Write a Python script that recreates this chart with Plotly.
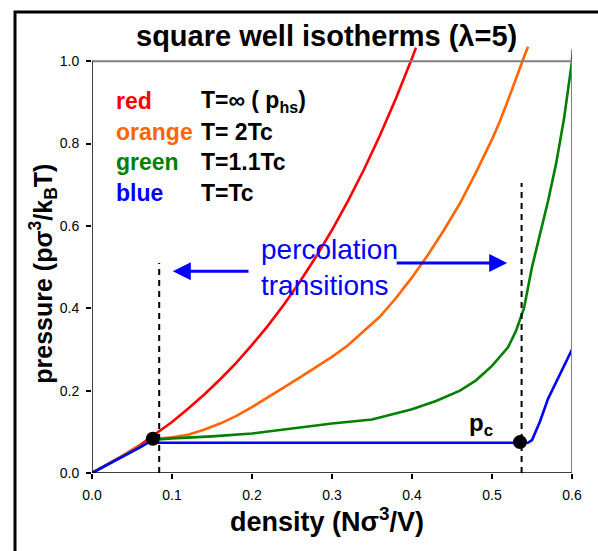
import plotly.graph_objects as go

# Square-well isotherms: pressure vs density
red_x = [0, 0.02, 0.04, 0.06, 0.08, 0.10, 0.12, 0.14, 0.16, 0.18, 0.20, 0.22, 0.24,
         0.26, 0.28, 0.30, 0.32, 0.34, 0.36, 0.38, 0.40, 0.405]
red_y = [0, 0.021, 0.044, 0.068, 0.095, 0.124, 0.156, 0.190, 0.227, 0.267, 0.311, 0.358,
         0.409, 0.465, 0.525, 0.590, 0.661, 0.737, 0.820, 0.910, 1.007, 1.033]

orange_x = [0, 0.02, 0.04, 0.06, 0.08, 0.10, 0.12, 0.14, 0.16, 0.18, 0.20, 0.22, 0.24,
            0.26, 0.28, 0.30, 0.32, 0.34, 0.36, 0.38, 0.40, 0.42, 0.44, 0.46, 0.48,
            0.50, 0.51, 0.52, 0.53, 0.54, 0.545]
orange_y = [0, 0.021, 0.043, 0.065, 0.083, 0.087, 0.093, 0.105, 0.120, 0.138, 0.160,
            0.185, 0.208, 0.232, 0.256, 0.282, 0.310, 0.345, 0.380, 0.425, 0.475,
            0.530, 0.590, 0.655, 0.730, 0.810, 0.855, 0.905, 0.960, 1.010, 1.035]

green_x = [0, 0.02, 0.04, 0.06, 0.075, 0.10, 0.15, 0.20, 0.25, 0.30, 0.35, 0.40, 0.43,
           0.46, 0.48, 0.50, 0.52, 0.53, 0.54, 0.55, 0.56, 0.57, 0.58, 0.59, 0.595,
           0.60, 0.601]
green_y = [0, 0.020, 0.042, 0.063, 0.080, 0.084, 0.089, 0.096, 0.108, 0.120, 0.130,
           0.155, 0.175, 0.200, 0.225, 0.260, 0.305, 0.345, 0.400, 0.500, 0.580,
           0.660, 0.750, 0.860, 0.930, 1.000, 1.030]

blue_x = [0, 0.02, 0.04, 0.06, 0.07, 0.10, 0.20, 0.30, 0.40, 0.50, 0.545, 0.55, 0.56,
          0.57, 0.58, 0.59, 0.60]
blue_y = [0, 0.020, 0.042, 0.062, 0.0735, 0.0735, 0.0735, 0.0735, 0.0735, 0.0735,
          0.0735, 0.080, 0.125, 0.180, 0.220, 0.260, 0.300]

# percolation points
dot_x = [0.076, 0.535]
dot_y = [0.083, 0.075]

# percolation transition markers
perc_left_x, perc_left_top = 0.084, 0.51
perc_right_x, perc_right_top = 0.537, 0.704

x_ticks = [0.0, 0.1, 0.2, 0.3, 0.4, 0.5, 0.6]
y_ticks = [0.0, 0.2, 0.4, 0.6, 0.8, 1.0]

legend_names = ["red", "orange", "green", "blue"]
legend_labels = ["T=\u221e ( p<sub>hs</sub>)", "T= 2Tc", "T=1.1Tc", "T=Tc"]
colors = ["#FF0000", "#FF6600", "#008000", "#0000FF"]

FONT = "Arial, Liberation Sans, sans-serif"

fig = go.Figure()
for xs, ys, c in [(red_x, red_y, colors[0]), (orange_x, orange_y, colors[1]),
                  (green_x, green_y, colors[2]), (blue_x, blue_y, colors[3])]:
    fig.add_trace(go.Scatter(x=xs, y=ys, mode="lines",
                             line=dict(color=c, width=2.6), hoverinfo="skip"))

fig.add_trace(go.Scatter(x=dot_x, y=dot_y, mode="markers",
                         marker=dict(color="black", size=14), cliponaxis=False))

shapes = []
# dashed vertical markers
for xv, top in [(perc_left_x, perc_left_top), (perc_right_x, perc_right_top)]:
    shapes.append(dict(type="line", xref="x", yref="y", x0=xv, x1=xv, y0=0, y1=top,
                       line=dict(color="black", width=2, dash="6px,5px")))
# plot frame
shapes.append(dict(type="line", xref="x", yref="y", x0=0, x1=0.6, y0=1.0, y1=1.0,
                   line=dict(color="#808080", width=2)))
shapes.append(dict(type="line", xref="x", yref="y", x0=0.6, x1=0.6, y0=0, y1=1.0,
                   line=dict(color="#808080", width=2)))
shapes.append(dict(type="line", xref="x", yref="y", x0=0, x1=0, y0=0, y1=1.0,
                   line=dict(color="black", width=1.5)))
shapes.append(dict(type="line", xref="x", yref="y", x0=0, x1=0.6, y0=0, y1=0,
                   line=dict(color="black", width=1.5)))
# outer border
shapes.append(dict(type="rect", xref="paper", yref="paper", x0=-0.1604, x1=1.08,
                   y0=-0.2, y1=1.0177, line=dict(color="black", width=3), layer="above"))

annotations = []
annotations.append(dict(text="<b>square well isotherms (\u03bb=5)</b>", xref="paper",
                        yref="paper", x=0.4875, y=0.965, xanchor="center",
                        yanchor="middle", showarrow=False,
                        font=dict(family=FONT, size=29, color="black")))
annotations.append(dict(text="<b>density (N\u03c3<sup>3</sup>/V)</b>", xref="paper",
                        yref="paper", x=0.49, y=-0.103, xanchor="center",
                        yanchor="middle", showarrow=False,
                        font=dict(family=FONT, size=27, color="black")))
annotations.append(dict(text="<b>pressure (p\u03c3<sup>3</sup>/k<sub>B</sub>T)</b>",
                        xref="paper", yref="paper", x=-0.102, y=0.44, textangle=-90,
                        xanchor="center", yanchor="middle", showarrow=False,
                        font=dict(family=FONT, size=25, color="black")))

row_y = [0.903, 0.828, 0.755, 0.680]
for name, lab, c, ry in zip(legend_names, legend_labels, colors, row_y):
    annotations.append(dict(text="<b>" + name + "</b>", x=0.0275, y=ry, xref="x",
                            yref="y", xanchor="left", yanchor="middle", showarrow=False,
                            font=dict(family=FONT, size=23, color=c)))
    annotations.append(dict(text="<b>" + lab + "</b>", x=0.134, y=ry, xref="x",
                            yref="y", xanchor="left", yanchor="middle", showarrow=False,
                            font=dict(family=FONT, size=23, color="black")))

annotations.append(dict(text="percolation<br>transitions", x=0.209, y=0.50, xref="x",
                        yref="y", xanchor="left", yanchor="middle", align="left",
                        showarrow=False, font=dict(family=FONT, size=28, color="#0000FF")))
annotations.append(dict(text="<b>p<sub>c</sub></b>", x=0.469, y=0.117, xref="x",
                        yref="y", xanchor="left", yanchor="middle", showarrow=False,
                        font=dict(family=FONT, size=24, color="black")))

# arrows
annotations.append(dict(x=0.101, y=0.49, ax=0.1975, ay=0.49, xref="x", yref="y",
                        axref="x", ayref="y", text="", showarrow=True, arrowhead=2,
                        arrowsize=1.2, arrowwidth=3, arrowcolor="#0000FF"))
annotations.append(dict(x=0.519, y=0.51, ax=0.379, ay=0.51, xref="x", yref="y",
                        axref="x", ayref="y", text="", showarrow=True, arrowhead=2,
                        arrowsize=1.2, arrowwidth=3, arrowcolor="#0000FF"))

fig.update_layout(
    width=598, height=551,
    margin=dict(l=92, r=26, t=20, b=78),
    paper_bgcolor="white", plot_bgcolor="white",
    showlegend=False,
    shapes=shapes, annotations=annotations,
    font=dict(family=FONT, color="black"),
    xaxis=dict(range=[0, 0.6], tickvals=x_ticks, ticktext=[f"{v:.1f}" for v in x_ticks],
               showgrid=False, zeroline=False, showline=False, ticks="outside",
               ticklen=5, tickwidth=1.5, tickcolor="black", ticklabelstandoff=4,
               tickfont=dict(family=FONT, size=14, color="black")),
    yaxis=dict(range=[0, 1.1], tickvals=y_ticks, ticktext=[f"{v:.1f}" for v in y_ticks],
               showgrid=False, zeroline=False, showline=False, ticks="outside",
               ticklen=5, tickwidth=1.5, tickcolor="black", ticklabelstandoff=4,
               tickfont=dict(family=FONT, size=14, color="black")),
)

fig.write_html("out.html")
